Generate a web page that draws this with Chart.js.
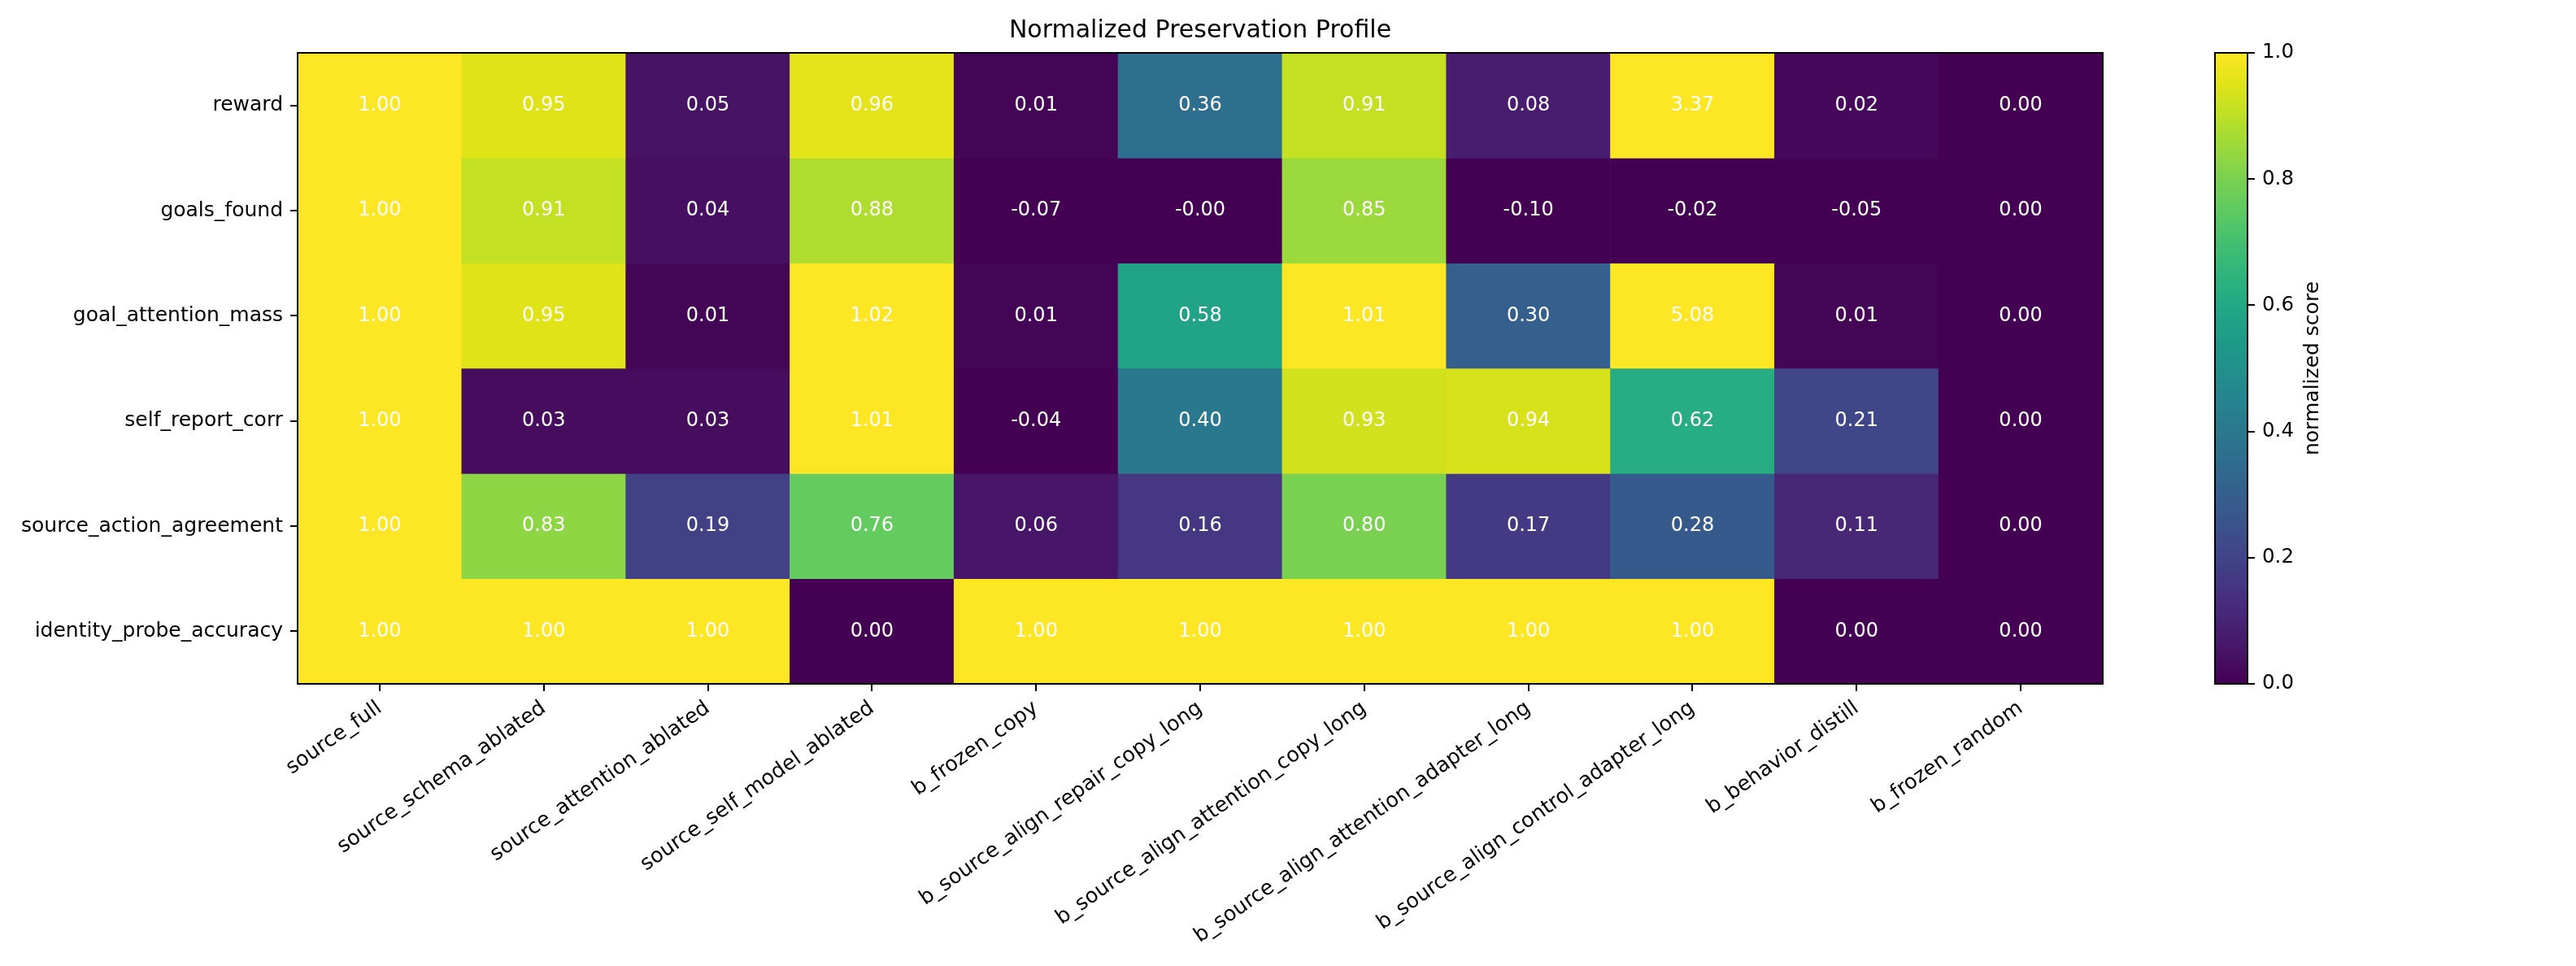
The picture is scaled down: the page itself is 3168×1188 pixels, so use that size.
<!DOCTYPE html>
<html>
<head>
<meta charset="utf-8">
<script src="https://cdn.jsdelivr.net/npm/chart.js@4.4.1/dist/chart.umd.min.js"></script>
<style>
  html, body { margin: 0; padding: 0; background: #fff; }
  #wrap { position: relative; width: 3168px; height: 1188px; }
  #heatmap { position: absolute; left: 0; top: 0; }
  #colorbar { position: absolute; left: 2700px; top: 0; }
</style>
</head>
<body>
<div id="wrap">
  <canvas id="heatmap" width="3168" height="1188"></canvas>
  <canvas id="colorbar" width="468" height="1188"></canvas>
</div>
<script>
const models = [
    "source_full",
    "source_schema_ablated",
    "source_attention_ablated",
    "source_self_model_ablated",
    "b_frozen_copy",
    "b_source_align_repair_copy_long",
    "b_source_align_attention_copy_long",
    "b_source_align_attention_adapter_long",
    "b_source_align_control_adapter_long",
    "b_behavior_distill",
    "b_frozen_random"
];
const metrics = [
    "reward",
    "goals_found",
    "goal_attention_mass",
    "self_report_corr",
    "source_action_agreement",
    "identity_probe_accuracy"
];

// one array per metric, same order as models
const reward = [1.00, 0.95, 0.05, 0.96, 0.01, 0.36, 0.91, 0.08, 3.37, 0.02, 0.00];
const goalsFound = [1.00, 0.91, 0.04, 0.88, -0.07, -0.001, 0.85, -0.10, -0.02, -0.05, 0.00];
const goalAttentionMass = [1.00, 0.95, 0.01, 1.02, 0.01, 0.58, 1.01, 0.30, 5.08, 0.01, 0.00];
const selfReportCorr = [1.00, 0.03, 0.03, 1.01, -0.04, 0.40, 0.93, 0.94, 0.62, 0.21, 0.00];
const sourceActionAgreement = [1.00, 0.83, 0.19, 0.76, 0.06, 0.16, 0.80, 0.17, 0.28, 0.11, 0.00];
const identityProbeAccuracy = [1.00, 1.00, 1.00, 0.00, 1.00, 1.00, 1.00, 1.00, 1.00, 0.00, 0.00];

const rows = [reward, goalsFound, goalAttentionMass, selfReportCorr, sourceActionAgreement, identityProbeAccuracy];

const colorbarTicks = [0, 0.2, 0.4, 0.6, 0.8, 1.0];

// viridis, 21 stops from 0 to 1
const VIRIDIS = [
    "#440154", "#471365", "#482475", "#463480", "#414487", "#3b528b", "#355f8d",
    "#2f6c8e", "#2a788e", "#25848e", "#21918c", "#1e9c89", "#22a884", "#2fb47c",
    "#44bf70", "#5ec962", "#7ad151", "#9bd93c", "#bddf26", "#dfe318", "#fde725"
];

function hexToRgb(h) {
    return [1, 3, 5].map((i) => parseInt(h.slice(i, i + 2), 16));
}

function viridis(v) {
    const t = Math.min(1, Math.max(0, v)) * (VIRIDIS.length - 1);
    const i = Math.min(Math.floor(t), VIRIDIS.length - 2);
    const f = t - i;
    const a = hexToRgb(VIRIDIS[i]);
    const b = hexToRgb(VIRIDIS[i + 1]);
    const c = a.map((x, k) => Math.round(x + (b[k] - x) * f));
    return `rgb(${c[0]},${c[1]},${c[2]})`;
}

const FONT = "DejaVu Sans";
Chart.defaults.font.family = FONT;
Chart.defaults.color = "#000";

const frame = {
    id: "frame",
    afterDraw(chart) {
        const { ctx, chartArea: a } = chart;
        ctx.save();
        ctx.strokeStyle = "#000";
        ctx.lineWidth = 2;
        ctx.strokeRect(a.left, a.top, a.right - a.left, a.bottom - a.top);
        ctx.restore();
    }
};

const cellLabels = {
    id: "cellLabels",
    afterDatasetsDraw(chart) {
        const ctx = chart.ctx;
        ctx.save();
        ctx.fillStyle = "#fff";
        ctx.font = `24px "${FONT}"`;
        ctx.textAlign = "center";
        ctx.textBaseline = "middle";
        rows.forEach((vals, r) => {
            chart.getDatasetMeta(r).data.forEach((bar, c) => {
                const p = bar.getProps(["x", "y", "base"], true);
                ctx.fillText(vals[c].toFixed(2), p.x, (p.y + p.base) / 2);
            });
        });
        ctx.restore();
    }
};

const tickGrid = {
    drawOnChartArea: false,
    drawTicks: true,
    tickLength: 9,
    lineWidth: 2,
    color: "#000"
};

new Chart(document.getElementById("heatmap"), {
    type: "bar",
    data: {
        labels: models,
        datasets: metrics.map((name, r) => ({
            label: name,
            data: models.map(() => [r - 0.5, r + 0.5]),
            backgroundColor: rows[r].map(viridis),
            borderWidth: 0,
            barPercentage: 1,
            categoryPercentage: 1,
            grouped: false
        }))
    },
    options: {
        responsive: false,
        animation: false,
        devicePixelRatio: 1,
        layout: { padding: { top: 0, right: 582, bottom: 0, left: 0 } },
        plugins: {
            legend: { display: false },
            tooltip: { enabled: false },
            title: {
                display: true,
                fullSize: false,
                text: "Normalized Preservation Profile",
                color: "#000",
                font: { size: 30, weight: "normal" },
                padding: { top: 20, bottom: 9 }
            }
        },
        scales: {
            x: {
                offset: true,
                grid: { ...tickGrid, offset: false },
                border: { display: false },
                ticks: {
                    autoSkip: false,
                    maxRotation: 35,
                    minRotation: 35,
                    padding: 6,
                    font: { size: 25.5 }
                },
                afterFit: (s) => { s.height = 347; }
            },
            y: {
                type: "linear",
                min: -0.5,
                max: 5.5,
                reverse: true,
                grid: tickGrid,
                border: { display: false },
                afterBuildTicks: (s) => { s.ticks = metrics.map((_, i) => ({ value: i })); },
                ticks: {
                    callback: (v) => metrics[v],
                    padding: 9,
                    font: { size: 25 }
                },
                afterFit: (s) => { s.width = 366; }
            }
        }
    },
    plugins: [cellLabels, frame]
});

// colour bar
const cbarLabel = {
    id: "cbarLabel",
    afterDraw(chart) {
        const { ctx, chartArea: a } = chart;
        ctx.save();
        ctx.translate(151, (a.top + a.bottom) / 2);
        ctx.rotate(-Math.PI / 2);
        ctx.font = `25px "${FONT}"`;
        ctx.fillStyle = "#000";
        ctx.textAlign = "center";
        ctx.textBaseline = "alphabetic";
        ctx.fillText("normalized score", 0, 0);
        ctx.restore();
    }
};

new Chart(document.getElementById("colorbar"), {
    type: "bar",
    data: {
        labels: [""],
        datasets: [{
            data: [[0, 1]],
            backgroundColor: (ctx) => {
                const a = ctx.chart.chartArea;
                if (!a) return VIRIDIS[0];
                const g = ctx.chart.ctx.createLinearGradient(0, a.bottom, 0, a.top);
                VIRIDIS.forEach((c, i) => g.addColorStop(i / (VIRIDIS.length - 1), c));
                return g;
            },
            borderWidth: 0,
            barPercentage: 1,
            categoryPercentage: 1
        }]
    },
    options: {
        responsive: false,
        animation: false,
        devicePixelRatio: 1,
        layout: { padding: { top: 65, right: 0, bottom: 347, left: 24 } },
        plugins: { legend: { display: false }, tooltip: { enabled: false } },
        scales: {
            x: { display: false },
            y: {
                position: "right",
                min: 0,
                max: 1,
                grid: tickGrid,
                border: { display: false },
                afterBuildTicks: (s) => { s.ticks = colorbarTicks.map((v) => ({ value: v })); },
                ticks: {
                    callback: (v) => Number(v).toFixed(1),
                    padding: 9,
                    font: { size: 24.5 }
                },
                afterFit: (s) => { s.width = 404; }
            }
        }
    },
    plugins: [frame, cbarLabel]
});
</script>
</body>
</html>
